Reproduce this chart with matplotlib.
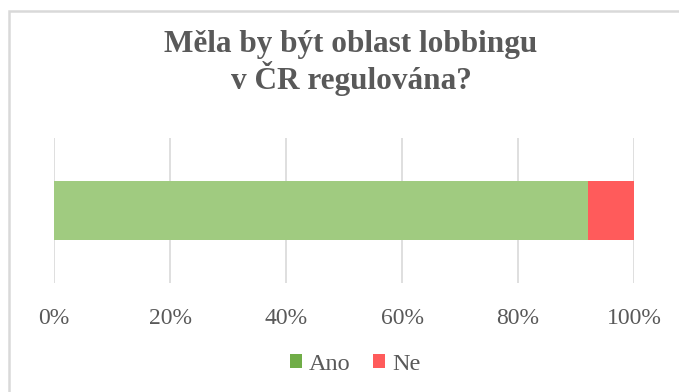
import matplotlib.pyplot as plt
from matplotlib.patches import Patch, Rectangle
from matplotlib.ticker import PercentFormatter

categories = ["Ano", "Ne"]
shares = [0.92, 0.08]
bar_colors = ["#A0CB80", "#FF5B5B"]
legend_colors = ["#70AD47", "#FF5B5B"]
ticks = [0, 0.2, 0.4, 0.6, 0.8, 1.0]

text_color = "#595959"
grid_color = "#D9D9D9"

plt.rcParams["font.family"] = ["Liberation Serif", "DejaVu Serif"]

fig = plt.figure(figsize=(6.79, 3.92), dpi=100)
ax = fig.add_axes([54 / 679, 1 - 283 / 392, 580 / 679, 145 / 392])

left = 0
for share, color in zip(shares, bar_colors):
    ax.barh(0, share, left=left, height=0.41, color=color, zorder=3)
    left += share

ax.set_xlim(0, 1)
ax.set_ylim(-0.5, 0.5)
ax.set_xticks(ticks)
ax.xaxis.set_major_formatter(PercentFormatter(1.0, decimals=0))
ax.set_yticks([])
ax.tick_params(axis="x", length=0, pad=18, labelsize=17, labelcolor=text_color)
ax.grid(True, axis="x", color=grid_color, linewidth=1.2, zorder=0)
for spine in ax.spines.values():
    spine.set_visible(False)

fig.text(
    351 / 679,
    1 - 63 / 392,
    "Měla by být oblast lobbingu\nv ČR regulována?",
    ha="center",
    va="center",
    fontsize=22.5,
    fontweight="bold",
    color=text_color,
    linespacing=1.05,
)

handles = [Patch(facecolor=c, edgecolor="none") for c in legend_colors]
fig.legend(
    handles,
    categories,
    loc="center",
    bbox_to_anchor=(355 / 679, 1 - 364 / 392),
    ncol=2,
    frameon=False,
    fontsize=17.5,
    labelcolor=text_color,
    handlelength=0.5,
    handleheight=0.5,
    handletextpad=0.3,
    columnspacing=0.9,
)

# chart area outline (only top and left edges fall inside the image)
fig.patches.append(
    Rectangle(
        (9 / 679, -0.1),
        1.2,
        1.1 - 11 / 392,
        transform=fig.transFigure,
        fill=False,
        edgecolor=grid_color,
        linewidth=1.8,
    )
)

fig.savefig("out.png", dpi=100)
